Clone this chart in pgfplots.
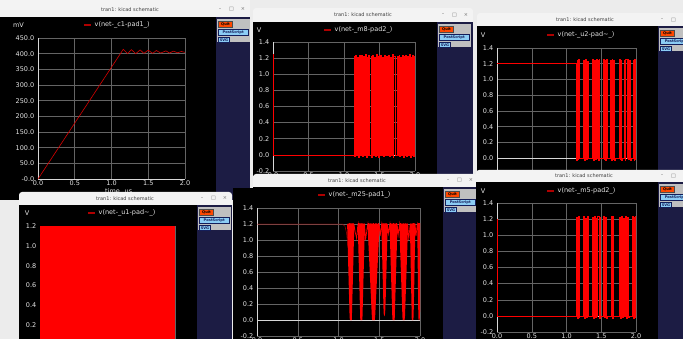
\documentclass[border=0pt]{standalone}
\usepackage{pgfplots}
\pgfplotsset{compat=1.18}
\usepackage{fontspec}
\setmainfont{DejaVu Sans}

\definecolor{desk}{RGB}{236,236,236}
\definecolor{navy}{RGB}{28,28,68}
\definecolor{titlebg}{RGB}{243,243,243}
\definecolor{titlefg}{RGB}{64,64,64}
\definecolor{ctrlfg}{RGB}{110,110,110}
\definecolor{quitbg}{RGB}{255,72,0}
\definecolor{btnbg}{RGB}{140,205,245}
\definecolor{btnfg}{RGB}{20,30,90}
\definecolor{btnbox}{RGB}{192,192,192}
\definecolor{gridc}{RGB}{100,100,100}
\definecolor{zeroc}{RGB}{215,215,215}
\definecolor{labelc}{RGB}{228,228,228}
\definecolor{trace}{RGB}{255,0,0}
\definecolor{darktrace}{RGB}{175,0,0}
\definecolor{ramp}{RGB}{215,0,0}

\newcommand\titlefont{\fontsize{5}{6}\selectfont}
\newcommand\tickfont{\fontsize{6.5}{7}\selectfont}
\newcommand\btnfont{\fontsize{3.6}{4}\selectfont\bfseries}

% screen layout is given in pixels, measured from the top-left corner
\tikzset{screen/.style={x=1pt,y=-1pt}}

% ngspice plot window: title bar, black plot area, side panel with buttons
% #1 left, #2 title top, #3 content top, #4 panel left, #5 right, #6 bottom,
% #7/#8 centre of the title text
\newcommand\spicewin[8]{%
  \begin{scope}[screen]
  \fill[titlebg, rounded corners=3pt] (#1,#2) rectangle (#5,#3+4);
  \fill[black] (#1,#3) rectangle (#4,#6);
  \fill[navy] (#4,#3) rectangle (#5,#6);
  \node[font=\titlefont, text=titlefg, inner sep=0pt] at (#7,#8) {tran1: kicad schematic};
  \node[font=\titlefont, text=ctrlfg, inner sep=0pt] at (#5-30,#8) {–};
  \node[font=\titlefont, text=ctrlfg, inner sep=0pt] at (#5-18.5,#8) {□};
  \node[font=\titlefont, text=ctrlfg, inner sep=0pt] at (#5-7,#8) {×};
  \fill[btnbox] (#4+1,#3+2) rectangle (#4+34,#3+25.5);
  \filldraw[draw=black!70, line width=0.3pt, fill=quitbg] (#4+2.5,#3+4) rectangle (#4+16.5,#3+10.5);
  \node[font=\btnfont, inner sep=0pt] at (#4+9.5,#3+7.25) {Quit};
  \filldraw[draw=btnfg, line width=0.3pt, fill=btnbg] (#4+2.5,#3+12) rectangle (#4+32,#3+18.5);
  \node[font=\btnfont, text=btnfg, inner sep=0pt] at (#4+17.25,#3+15.25) {PostScript};
  \filldraw[draw=btnfg, line width=0.3pt, fill=btnbg] (#4+2.5,#3+20) rectangle (#4+13.5,#3+25.5);
  \node[font=\btnfont, text=btnfg, inner sep=0pt] at (#4+8,#3+23) {SVG};
  \end{scope}
}

% legend entry and unit label drawn above each plot
\newcommand\legendentry[3]{%
  \begin{scope}[screen]
  \fill[darktrace] (#1,#2-0.8) rectangle (#1+7,#2+0.8);
  \node[font=\tickfont, text=labelc, anchor=west, inner sep=0pt] at (#1+10.5,#2) {#3};
  \end{scope}
}
\newcommand\unitlabel[3]{%
  \begin{scope}[screen]
  \node[font=\tickfont, text=labelc, inner sep=0pt] at (#1,#2) {#3};
  \end{scope}
}

\pgfplotsset{
  spice/.style={
    scale only axis, anchor=south west,
    xmin=0, xmax=2,
    axis line style={draw=none},
    grid=major,
    grid style={gridc, line width=0.5pt},
    major tick length=0pt,
    xtick={0,0.5,1,1.5,2},
    xticklabels={0.0,0.5,1.0,1.5,2.0},
    tick label style={font=\tickfont, text=labelc, inner sep=0pt},
    xticklabel style={yshift=-1.5pt},
    yticklabel style={xshift=-3.5pt},
    extra x ticks={0}, extra x tick labels={},
    extra y ticks={0}, extra y tick labels={},
    extra tick style={grid style={zeroc, line width=0.6pt}},
    /pgf/number format/assume math mode=true,
  },
  volts/.style={
    ymin=-0.2, ymax=1.4,
    ytick={-0.2,0,0.2,0.4,0.6,0.8,1.0,1.2,1.4},
    yticklabels={-0.2,0.0,0.2,0.4,0.6,0.8,1.0,1.2,1.4},
  },
}

\begin{document}
\begin{tikzpicture}
\useasboundingbox (0pt,0pt) rectangle (683pt,-339pt);
\clip (0pt,0pt) rectangle (683pt,-339pt);
\fill[desk] (0pt,0pt) rectangle (683pt,-339pt);

% ---------- v(net-_c1-pad1_) ----------
\spicewin{0}{-4}{17}{216}{250}{200}{130}{9.5}
\begin{axis}[spice, at={(38pt,-179pt)}, width=147pt, height=141pt,
  ymin=0, ymax=450, ytick={0,50,...,450},
  yticklabels={-0.0,50.0,100.0,150.0,200.0,250.0,300.0,350.0,400.0,450.0}]
\addplot[ramp, line width=0.6pt] coordinates {
  (0,0)(1.16,414)(1.22,400)(1.27,413)(1.33,400)(1.39,412)(1.44,401)
  (1.50,411)(1.56,401)(1.61,410)(1.67,402)(1.74,409)(1.79,402)
  (1.84,408)(1.90,403)(1.95,407)(2.0,404)};
\end{axis}
\unitlabel{18.5}{25}{mV}
\legendentry{84}{25}{v(net-\_c1-pad1\_)}
\unitlabel{112.5}{191.5}{time}
\unitlabel{128.5}{191.5}{us}

% ---------- v(net-_m8-pad2_) ----------
\spicewin{253}{8}{22}{437}{473}{176}{363}{15}
\begin{axis}[spice, volts, at={(273pt,-171pt)}, width=142pt, height=129pt]
\addplot[trace, line width=0.7pt, const plot] coordinates {
  (0,1.25)(0.008,0)
  (1.14,1.22)(1.152,-0.02)(1.164,1.24)(1.176,0)(1.188,1.21)(1.2,-0.03)(1.212,1.23)(1.224,0)(1.232,1.22)(1.24,0)
  (1.25,1.24)(1.262,-0.02)(1.274,1.22)(1.286,0)(1.298,1.25)(1.31,-0.03)(1.322,1.21)(1.334,0)(1.342,1.23)(1.35,0)
  (1.38,1.22)(1.392,-0.03)(1.404,1.24)(1.416,0)(1.428,1.21)(1.44,-0.02)(1.452,1.25)(1.464,0)(1.476,1.22)(1.488,-0.03)(1.5,1.23)(1.51,0)
  (1.52,1.24)(1.532,0)(1.544,1.21)(1.556,-0.02)(1.568,1.23)(1.58,0)(1.592,1.22)(1.61,0)
  (1.63,1.23)(1.642,-0.02)(1.654,1.21)(1.666,0)(1.678,1.25)(1.69,-0.03)(1.702,1.22)(1.72,0)
  (1.75,1.22)(1.762,0)(1.774,1.24)(1.786,-0.02)(1.798,1.21)(1.81,0)(1.822,1.23)(1.834,-0.03)(1.846,1.22)(1.86,0)
  (1.87,1.24)(1.882,-0.02)(1.894,1.22)(1.906,0)(1.918,1.25)(1.93,-0.03)(1.942,1.21)(1.954,0)(1.966,1.23)(1.978,-0.02)(1.99,1.22)(2.0,1.22)};
\end{axis}
\unitlabel{259}{30}{V}
\legendentry{324}{30}{v(net-\_m8-pad2\_)}

% ---------- v(net-_u2-pad~_) ----------
\spicewin{477}{13}{26}{658}{692}{172}{585}{20}
\begin{axis}[spice, volts, at={(497pt,-174pt)}, width=139pt, height=126pt,
  xticklabels={}]
\addplot[trace, line width=0.9pt, const plot] coordinates {
  (0,1.2)
  (1.14,-0.03)(1.152,1.24)(1.164,-0.02)(1.176,1.25)(1.19,0)
  (1.25,1.24)(1.262,-0.03)(1.274,1.25)(1.286,-0.02)(1.298,1.23)(1.31,0)
  (1.38,1.25)(1.392,-0.03)(1.404,1.24)(1.416,-0.02)(1.428,1.25)(1.44,0)
  (1.45,1.24)(1.462,-0.03)(1.474,1.25)(1.48,0)
  (1.53,1.25)(1.542,-0.02)(1.554,1.24)(1.566,-0.03)(1.578,1.25)(1.585,0)
  (1.63,1.24)(1.642,-0.03)(1.654,1.25)(1.666,-0.02)(1.678,1.24)(1.69,-0.03)(1.7,0)
  (1.76,1.25)(1.772,-0.02)(1.784,1.24)(1.796,-0.03)(1.81,0)
  (1.83,1.24)(1.842,-0.03)(1.854,1.25)(1.87,0)
  (1.88,1.25)(1.892,-0.02)(1.904,1.24)(1.916,-0.03)(1.93,0)
  (1.96,1.24)(1.972,-0.03)(1.984,1.25)(1.996,-0.02)(2.0,0)};
\end{axis}
\unitlabel{483}{35}{V}
\legendentry{547}{35}{v(net-\_u2-pad\textasciitilde\_)}

% ---------- v(net-_u1-pad~_) ----------
\spicewin{19}{192}{205}{197}{232}{345}{125}{198.5}
\begin{axis}[spice, at={(40pt,-345pt)}, width=135pt, height=119pt,
  ymin=0, ymax=1.2, ytick={0,0.2,0.4,0.6,0.8,1.0,1.2},
  yticklabels={0.0,0.2,0.4,0.6,0.8,1.0,1.2}]
\addplot[fill=trace, draw=none] coordinates {(0,0)(0,1.2)(2,1.2)(2,0)} \closedcycle;
\end{axis}
\unitlabel{27}{213}{V}
\legendentry{88}{213}{v(net-\_u1-pad\textasciitilde\_)}

% ---------- v(net-_m25-pad1_) ----------
\spicewin{253}{174}{187}{443}{478}{345}{357}{180.5}
\fill[black] (233pt,-188pt) rectangle (255pt,-339pt);
\begin{axis}[spice, volts, at={(257pt,-336pt)}, width=163pt, height=128pt]
\addplot[darktrace, line width=0.5pt] coordinates {
  (0,1.2)(1.05,1.2)(1.08,1.17)(1.1,1.08)(1.115,0.92)};
\addplot[trace, line width=0.7pt] coordinates {
  (1.11,1.2)(1.141,0.02)(1.118,1.21)(1.143,0)(1.126,1.2)(1.145,0.01)(1.134,1.21)(1.147,0)(1.142,1.2)(1.149,0.02)(1.15,1.21)(1.151,0)(1.158,1.2)(1.153,0.01)(1.166,1.21)(1.155,0)(1.174,1.2)(1.157,0.02)(1.182,1.21)(1.159,0)(1.19,1.2)
  (1.205,1.1)(1.222,1.02)(1.236,1.18)
  (1.24,1.2)(1.271,0.02)(1.248,1.21)(1.273,0)(1.256,1.2)(1.275,0.01)(1.264,1.21)(1.277,0)(1.272,1.2)(1.279,0.02)(1.28,1.21)(1.281,0)(1.288,1.2)(1.283,0.01)(1.296,1.21)(1.285,0)(1.304,1.2)(1.287,0.02)(1.312,1.21)(1.289,0)(1.32,1.2)
  (1.333,1.0)(1.352,1.16)
  (1.36,1.2)(1.414,0.03)(1.37,1.21)(1.416,0)(1.38,1.2)(1.419,0.02)(1.39,1.21)(1.421,0)(1.4,1.2)(1.424,0.01)(1.41,1.21)(1.426,0)(1.42,1.2)(1.429,0.02)(1.43,1.21)(1.431,0)(1.44,1.2)(1.434,0.01)(1.45,1.21)(1.436,0)(1.46,1.2)(1.439,0.02)(1.47,1.21)(1.441,0)(1.48,1.2)(1.444,0.03)(1.49,1.21)(1.446,0.05)(1.5,1.2)
  (1.512,1.05)(1.526,1.18)
  (1.53,1.2)(1.557,0.12)(1.538,1.21)(1.559,0.08)(1.546,1.2)(1.561,0.06)(1.554,1.21)(1.563,0.05)(1.562,1.2)(1.565,0.06)(1.57,1.21)(1.567,0.08)(1.578,1.2)(1.569,0.1)(1.586,1.21)(1.571,0.14)(1.594,1.2)(1.573,0.2)(1.6,1.2)
  (1.612,1.08)(1.626,1.18)
  (1.63,1.2)(1.665,0.02)(1.639,1.21)(1.667,0)(1.648,1.2)(1.669,0.01)(1.657,1.21)(1.672,0)(1.666,1.2)(1.674,0.02)(1.675,1.21)(1.676,0)(1.684,1.2)(1.678,0.01)(1.693,1.21)(1.681,0)(1.702,1.2)(1.683,0.02)(1.711,1.21)(1.685,0)(1.72,1.2)
  (1.732,1.06)(1.745,1.17)
  (1.75,1.2)(1.789,0.03)(1.76,1.21)(1.791,0)(1.77,1.2)(1.794,0.01)(1.78,1.21)(1.796,0)(1.79,1.2)(1.799,0.02)(1.8,1.21)(1.801,0)(1.81,1.2)(1.804,0.01)(1.82,1.21)(1.806,0)(1.83,1.2)(1.809,0.02)(1.84,1.21)(1.811,0.03)(1.85,1.2)
  (1.862,1.0)(1.875,1.15)
  (1.88,1.2)(1.903,0.02)(1.888,1.21)(1.905,0)(1.896,1.2)(1.907,0.01)(1.904,1.21)(1.909,0)(1.912,1.2)(1.911,0.02)(1.92,1.21)(1.913,0)(1.928,1.2)(1.915,0.01)(1.936,1.21)(1.917,0.03)(1.94,1.2)
  (1.952,1.05)(1.964,1.18)
  (1.97,1.2)(1.984,0.03)(1.976,1.21)(1.986,0)(1.982,1.2)(1.988,0.01)(1.988,1.21)(1.99,0)(1.994,1.2)(1.993,0.02)(2.0,1.21)(1.996,0.1)(2.0,0.6)};
\end{axis}
\legendentry{318}{195}{v(net-\_m25-pad1\_)}

% ---------- v(net-_m5-pad2_) ----------
\spicewin{476}{170}{182}{658}{692}{345}{584}{176}
\begin{axis}[spice, volts, at={(497pt,-332pt)}, width=139pt, height=129pt]
\addplot[trace, line width=0.6pt, const plot] coordinates {
  (0,1.2)(0.006,0)
  (1.14,1.22)(1.155,-0.03)(1.17,1.24)(1.185,-0.02)(1.19,0)
  (1.24,1.23)(1.255,-0.03)(1.27,1.21)(1.285,-0.02)(1.3,1.24)(1.31,0)
  (1.37,1.22)(1.385,-0.03)(1.4,1.24)(1.415,-0.02)(1.43,1.21)(1.44,0)
  (1.45,1.23)(1.465,-0.03)(1.48,1.22)(1.49,0)
  (1.53,1.24)(1.545,-0.02)(1.56,1.22)(1.575,-0.03)(1.58,0)
  (1.64,1.23)(1.655,-0.03)(1.67,1.24)(1.68,0)
  (1.76,1.22)(1.775,-0.03)(1.79,1.24)(1.805,-0.02)(1.82,1.21)(1.83,0)
  (1.85,1.23)(1.865,-0.03)(1.88,1.22)(1.89,-0.02)(1.9,0)
  (1.94,1.24)(1.955,-0.03)(1.97,1.22)(1.985,-0.02)(1.995,1.23)(2.0,0)};
\end{axis}
\unitlabel{483}{191}{V}
\legendentry{547}{191}{v(net-\_m5-pad2\_)}

\end{tikzpicture}
\end{document}
